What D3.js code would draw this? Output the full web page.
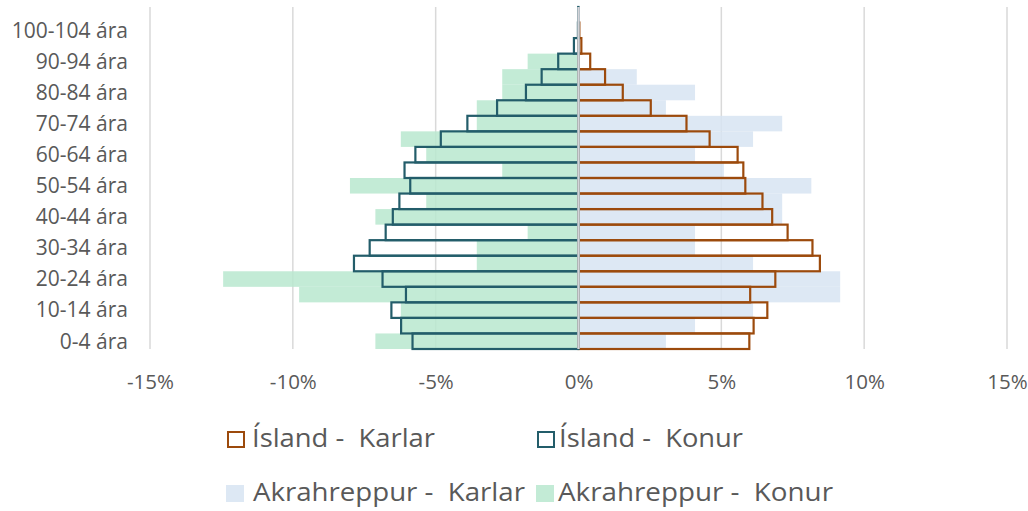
<!DOCTYPE html>
<html>
<head>
<meta charset="utf-8">
<script src="https://cdn.jsdelivr.net/npm/d3@7/dist/d3.min.js"></script>
<style>
html,body{margin:0;padding:0;background:#fff;}
svg{display:block;}
text{font-family:"Open Sans",sans-serif;fill:#595959;white-space:pre;}
</style>
</head>
<body>
<svg id="chart" width="1028" height="511"></svg>
<script>
const ageGroups = ["0-4 ára","5-9 ára","10-14 ára","15-19 ára","20-24 ára","25-29 ára","30-34 ára","35-39 ára","40-44 ára","45-49 ára","50-54 ára","55-59 ára","60-64 ára","65-69 ára","70-74 ára","75-79 ára","80-84 ára","85-89 ára","90-94 ára","95-99 ára","100-104 ára","105+ ára"];
const islandKarlar = [5.98,6.13,6.61,6.01,6.89,8.45,8.19,7.32,6.78,6.44,5.84,5.77,5.57,4.59,3.78,2.53,1.55,0.93,0.41,0.10,0.03,0.00];
const islandKonur = [-5.81,-6.21,-6.55,-6.04,-6.86,-7.86,-7.31,-6.75,-6.50,-6.27,-5.89,-6.09,-5.71,-4.82,-3.89,-2.85,-1.84,-1.29,-0.71,-0.16,-0.02,-0.01];
const akraKarlar = [3.06,4.08,6.11,9.16,9.16,6.11,4.08,4.08,7.13,7.13,8.15,5.09,4.08,6.11,7.13,3.06,4.08,2.04,0,0,0,0];
const akraKonur = [-7.11,-6.22,-6.22,-9.78,-12.44,-3.56,-3.56,-1.78,-7.11,-5.33,-8.00,-2.67,-5.33,-6.22,-3.56,-3.56,-2.67,-2.67,-1.78,0,0,0];
const xTicks = [-15,-10,-5,0,5,10,15];
const seriesNames = ["Ísland -  Karlar","Ísland -  Konur","Akrahreppur -  Karlar","Akrahreppur -  Konur"];

const svg = d3.select("#chart");
const x = d3.scaleLinear().domain([-15,15]).range([150,1007]);
const y = d3.scaleBand().domain(ageGroups.slice().reverse()).range([7,349]).padding(0);

// gridlines
svg.append("g").selectAll("line").data(xTicks.filter(d=>d!==0)).join("line")
  .attr("x1",d=>x(d)).attr("x2",d=>x(d)).attr("y1",7).attr("y2",349)
  .attr("stroke","#d9d9d9").attr("stroke-width",1.5);

function fillBars(vals, color){
  svg.append("g").selectAll("rect").data(vals.map((v,i)=>({v,c:ageGroups[i]}))).join("rect")
    .attr("x",d=>Math.min(x(0),x(d.v))).attr("width",d=>Math.abs(x(d.v)-x(0)))
    .attr("y",d=>y(d.c)).attr("height",y.bandwidth())
    .attr("fill",color).attr("fill-opacity",0.85);
}
function outlineBars(vals, color){
  svg.append("g").selectAll("rect").data(vals.map((v,i)=>({v,c:ageGroups[i]}))).join("rect")
    .attr("x",d=>Math.min(x(0),x(d.v))).attr("width",d=>Math.abs(x(d.v)-x(0)))
    .attr("y",d=>y(d.c)).attr("height",y.bandwidth())
    .attr("fill","none").attr("stroke",color).attr("stroke-width",2.2);
}
fillBars(akraKarlar,"#d7e4f2");
fillBars(akraKonur,"#b8e8cf");
outlineBars(islandKarlar,"#9c4a0c");
outlineBars(islandKonur,"#235d6a");

// zero axis line on top
svg.append("line").attr("x1",x(0)).attr("x2",x(0)).attr("y1",7).attr("y2",349)
  .attr("stroke","#d3d3d8").attr("stroke-width",2.4);

// y labels
svg.append("g").selectAll("text").data(ageGroups.filter((d,i)=>i%2===0)).join("text")
  .attr("x",128).attr("y",d=>y(d)+y.bandwidth()/2).attr("dy","0.35em")
  .attr("text-anchor","end").attr("font-size",21).text(d=>d);

// x labels
const xAxis = d3.axisBottom(x).tickValues(xTicks).tickFormat(d=>d+"%").tickSize(0).tickPadding(0);
const gx = svg.append("g").attr("transform","translate(0,375)").call(xAxis);
gx.select(".domain").remove();
gx.selectAll("text").attr("font-size",20.5).attr("font-family","Open Sans").attr("fill","#595959").attr("dy","0.35em").attr("y",7);

// legend
const legendItems = [
  {name:seriesNames[0], x:227, y:431, tx:252, w:183, type:"outline", color:"#9c4a0c"},
  {name:seriesNames[1], x:537, y:431, tx:559, w:184, type:"outline", color:"#235d6a"},
  {name:seriesNames[2], x:226, y:485, tx:253, w:272, type:"fill", color:"#dde8f4"},
  {name:seriesNames[3], x:536, y:485, tx:558, w:275, type:"fill", color:"#c3ebd6"}
];
const lg = svg.append("g").selectAll("g").data(legendItems).join("g");
lg.append("rect")
  .attr("x",d=>d.type==="outline"?d.x+1:d.x).attr("y",d=>d.type==="outline"?d.y+1:d.y)
  .attr("width",d=>d.type==="outline"?16:18).attr("height",d=>d.type==="outline"?15:17)
  .attr("fill",d=>d.type==="outline"?"none":d.color)
  .attr("stroke",d=>d.type==="outline"?d.color:"none").attr("stroke-width",2);
lg.append("text").attr("x",d=>d.tx).attr("y",d=>d.y+16)
  .attr("font-size",25).attr("textLength",d=>d.w).attr("lengthAdjust","spacingAndGlyphs")
  .text(d=>d.name);
</script>
</body>
</html>
